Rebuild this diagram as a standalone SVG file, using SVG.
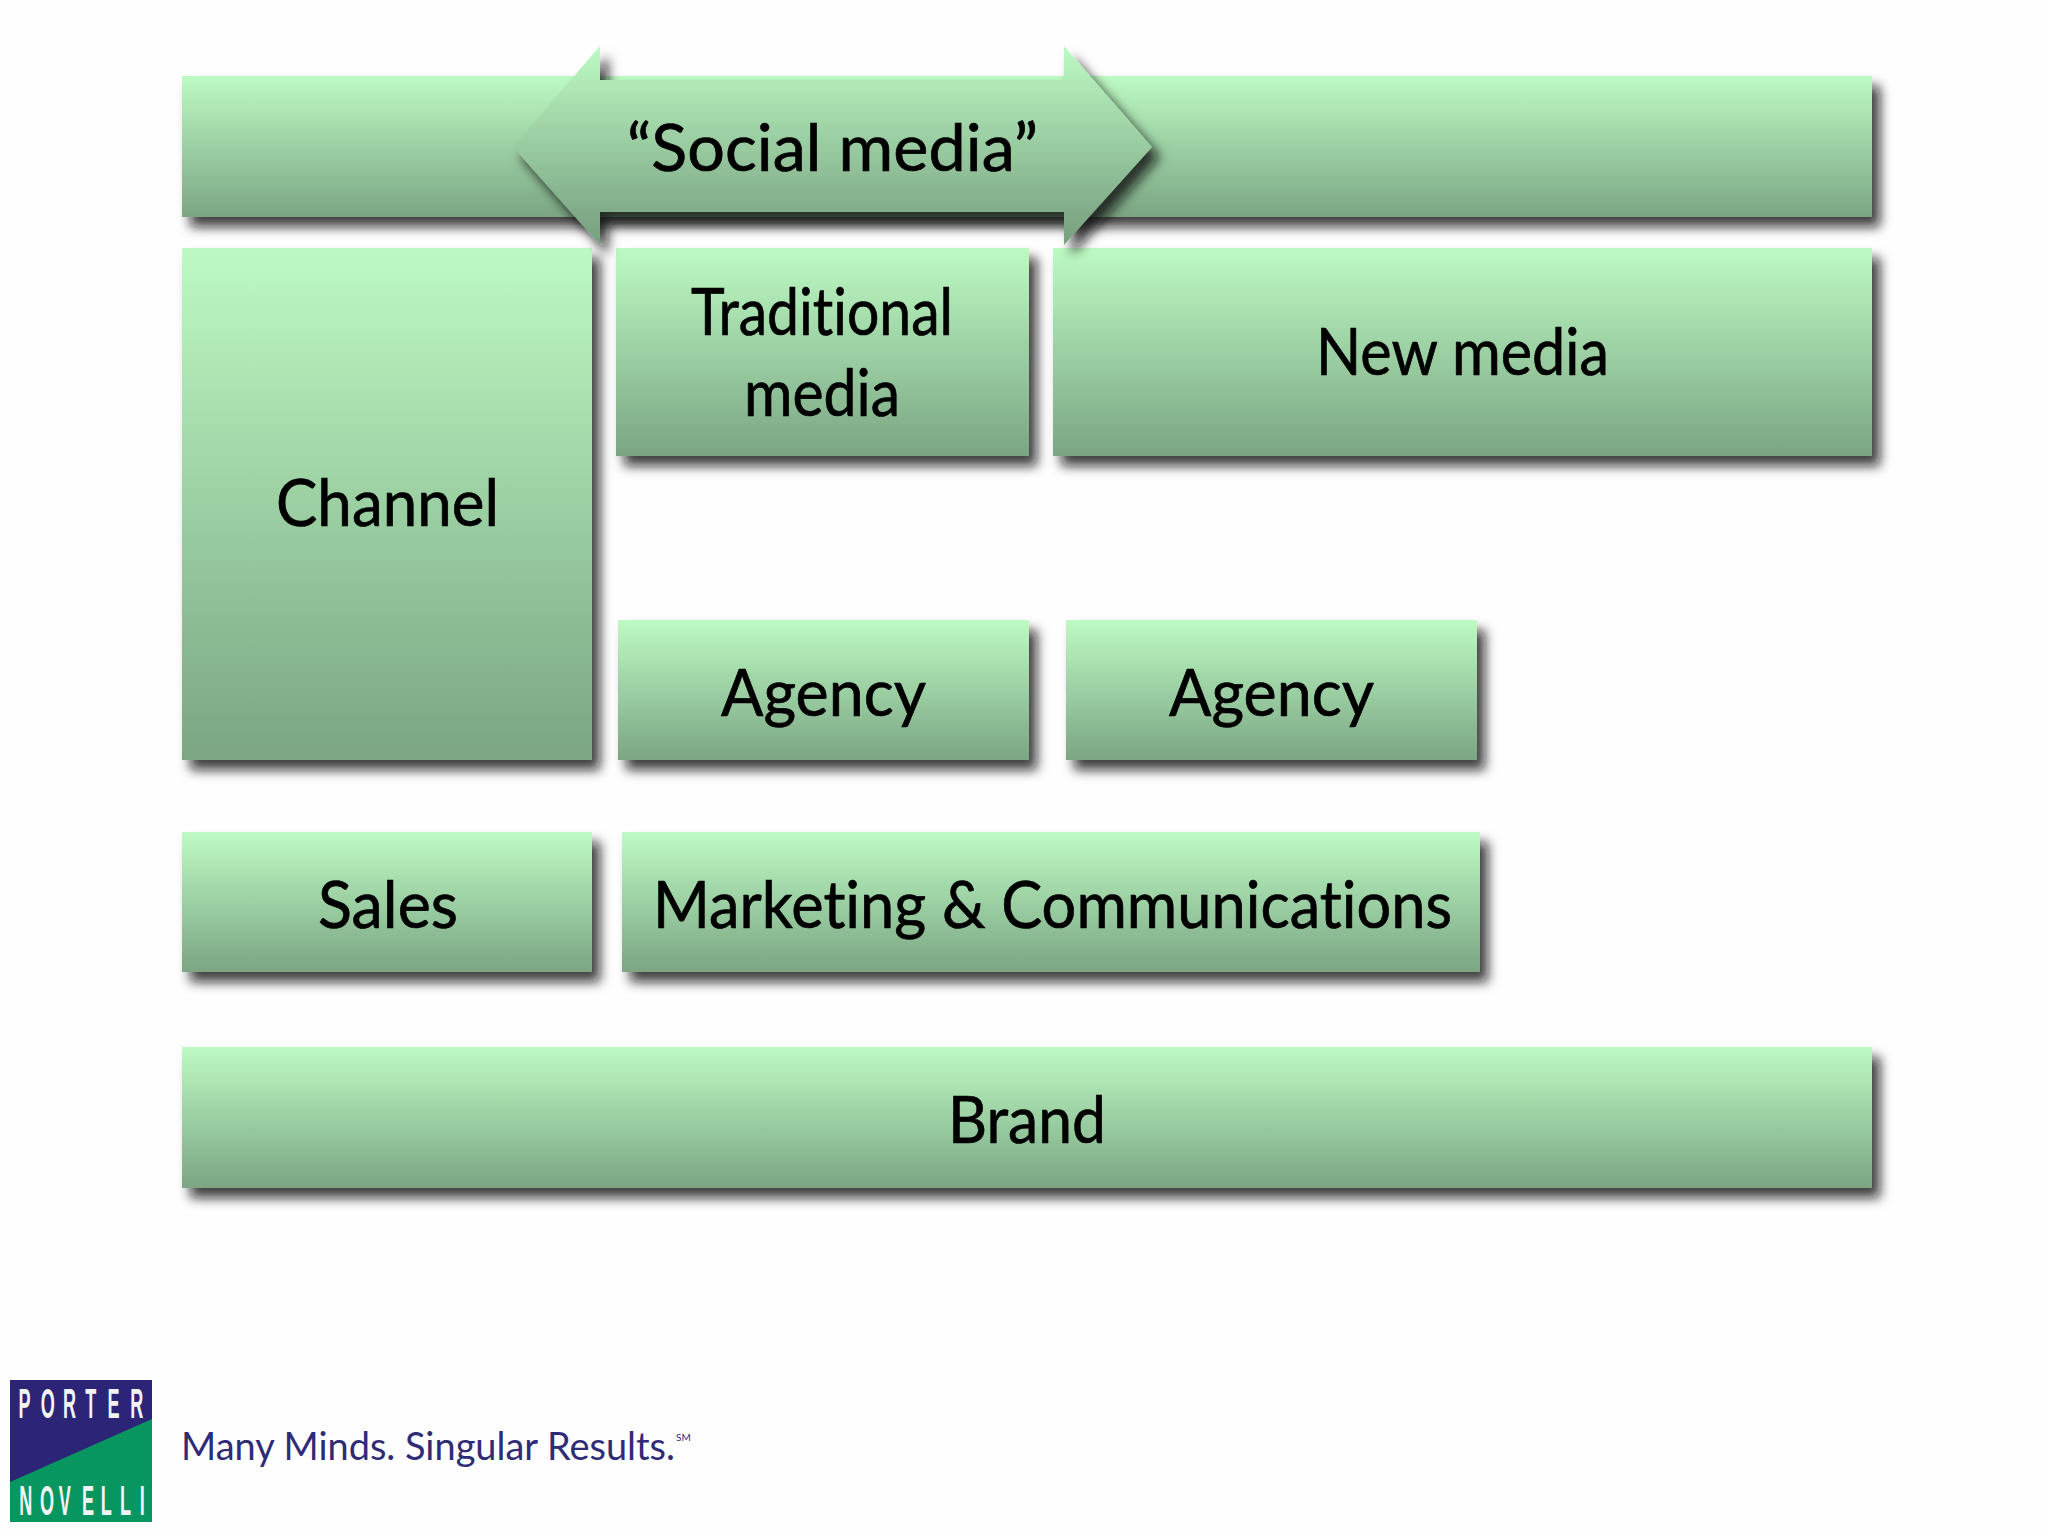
<svg xmlns="http://www.w3.org/2000/svg" width="2048" height="1536" viewBox="0 0 2048 1536">
<style>
.box{fill:url(#g);filter:url(#s)}
.arrow{fill:url(#ga);filter:url(#s)}
.t{font-family:"Lato","Liberation Sans",sans-serif;font-size:66px;fill:#000;stroke:#000;stroke-width:.7;font-variant-ligatures:none}
.lg{font-family:"Liberation Sans",sans-serif;font-weight:bold;font-size:43px;fill:#f2f4f4}
.tag{font-family:"Lato","Liberation Sans",sans-serif;font-size:38px;fill:#2f2b77;font-variant-ligatures:none}
</style>
<defs>
<linearGradient id="g" x1="0" y1="0" x2="0" y2="1"><stop offset="0" stop-color="#bdfac3"/><stop offset="1" stop-color="#7ba583"/></linearGradient>
<linearGradient id="ga" x1="0" y1="0" x2="0" y2="1"><stop offset="0" stop-color="#bdfac3"/><stop offset=".85" stop-color="#80aa88"/><stop offset="1" stop-color="#76a07e"/></linearGradient>
<filter id="s" x="-10%" y="-20%" width="120%" height="140%"><feDropShadow dx="8" dy="10" stdDeviation="6" flood-color="#111" flood-opacity=".8"/></filter>
</defs>
<rect width="2048" height="1536" fill="#fefefe"/>
<g id="top-bar"><rect class="box" x="182" y="76" width="1690" height="141"/></g>
<g id="channel"><rect class="box" x="182" y="248" width="410" height="512"/><text class="t" x="276" y="526" textLength="223" lengthAdjust="spacingAndGlyphs">Channel</text></g>
<g id="traditional-media"><rect class="box" x="616" y="248" width="413" height="208"/><text class="t" x="691" y="335" textLength="262" lengthAdjust="spacingAndGlyphs">Traditional</text><text class="t" x="744" y="416" textLength="156" lengthAdjust="spacingAndGlyphs">media</text></g>
<g id="new-media"><rect class="box" x="1053" y="248" width="819" height="208"/><text class="t" x="1316" y="375" textLength="293" lengthAdjust="spacingAndGlyphs">New media</text></g>
<g id="agency-1"><rect class="box" x="618" y="620" width="411" height="140"/><text class="t" x="721" y="716" textLength="205" lengthAdjust="spacingAndGlyphs">Agency</text></g>
<g id="agency-2"><rect class="box" x="1066" y="620" width="411" height="140"/><text class="t" x="1169" y="716" textLength="205" lengthAdjust="spacingAndGlyphs">Agency</text></g>
<g id="sales"><rect class="box" x="182" y="832" width="410" height="140"/><text class="t" x="318" y="928" textLength="140" lengthAdjust="spacingAndGlyphs">Sales</text></g>
<g id="marketing"><rect class="box" x="622" y="832" width="858" height="140"/><text class="t" x="653" y="928" textLength="799" lengthAdjust="spacingAndGlyphs">Marketing &amp; Communications</text></g>
<g id="brand"><rect class="box" x="182" y="1047" width="1690" height="141"/><text class="t" x="948" y="1143" textLength="158" lengthAdjust="spacingAndGlyphs">Brand</text></g>
<g id="social-media"><polygon class="arrow" points="513,147 600,46 600,80 1064,80 1064,46 1152,147 1064,245 1064,212 600,212 600,245"/><text class="t" x="627" y="171" textLength="411" lengthAdjust="spacingAndGlyphs">“Social media”</text></g>
<g id="connectors"/>
<g id="logo">
<rect x="10" y="1380" width="142" height="142" fill="#079660"/>
<polygon points="10,1380 152,1380 152,1419 10,1482" fill="#2c2577"/>
<g transform="scale(.42 1)">
<text class="lg" x="44 97 150 203 256 310" y="1418">PORTER</text>
<text class="lg" x="46 95 140 195 240 286 333" y="1515">NOVELLI</text>
</g>
<text class="tag" x="181" y="1460" textLength="494" lengthAdjust="spacingAndGlyphs">Many Minds. Singular Results.</text>
<text class="tag" x="676" y="1441" style="font-size:10px">SM</text>
</g>
</svg>
